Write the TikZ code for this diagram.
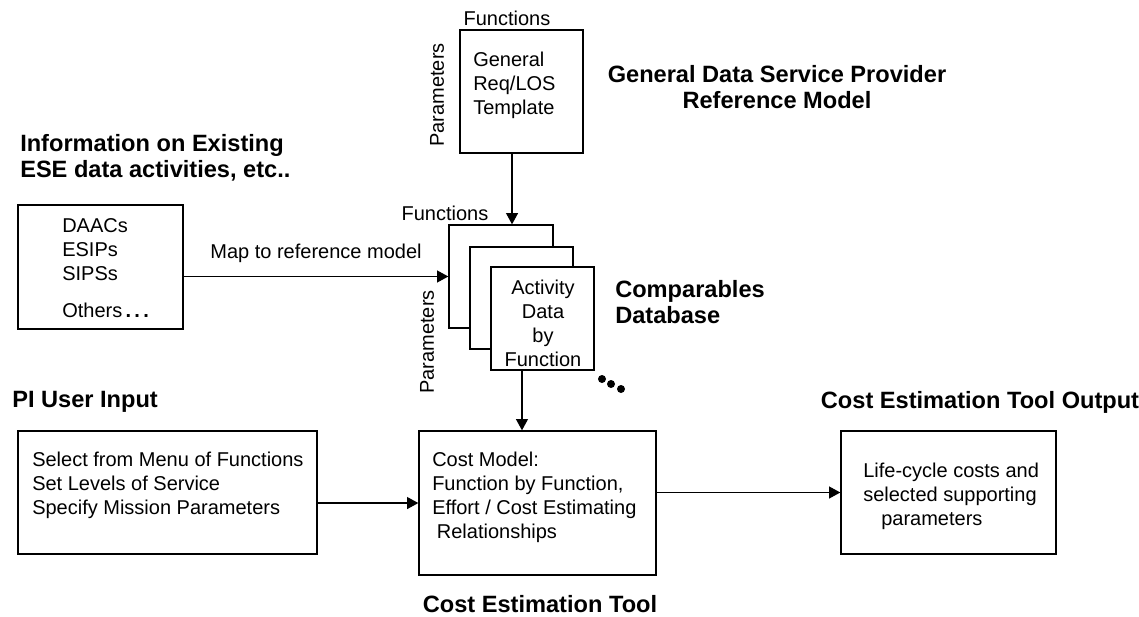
\documentclass[tikz,border=0pt]{standalone}
\usepackage{fontspec}
\setmainfont{Liberation Sans}
\usetikzlibrary{arrows.meta,fit}
\begin{document}
\begin{tikzpicture}[x=0.75pt,y=-0.75pt,
  box/.style={draw, line width=1pt, fill=white, inner sep=0pt},
  txt/.style={font=\fontsize{15}{18}\selectfont, inner sep=0pt, align=left},
  head/.style={font=\fontsize{17.7}{19.5}\bfseries\selectfont, inner sep=0pt},
  arr/.style={line width=1pt, -{Triangle[length=8.5pt,width=9pt]}},
  dot/.style={fill=black, circle, inner sep=0pt, minimum size=6pt}]
\useasboundingbox (0,0) rectangle (1139,617);

% template box
\node[box, fit={(460,30) (583,153)}] (tmpl) {};
\node[txt, anchor=west] (tmpltxt) at (473,85) {General\\Req/LOS\\Template};
\node[txt] (fun1) at (507,18) {Functions};
\node[txt, rotate=90] (par1) at (437,95) {Parameters};

% stacked boxes
\node[box, fit={(449,225) (553,328)}] (b1) {};
\node[box, fit={(470,247) (573,349)}] (b2) {};
\node[box, fit={(491,267) (594,370)}] (b3) {};
\node[txt, align=center] (b3txt) at (543,323) {Activity\\Data\\by\\Function};
\node[txt] (fun2) at (445,213) {Functions};
\node[txt, rotate=90] (par2) at (427,342) {Parameters};
\node[dot] (d1) at (602,379) {};
\node[dot] (d2) at (611,384) {};
\node[dot] (d3) at (621,389) {};

% headings
\node[head, align=center] (gdsp) at (777,87) {General Data Service Provider\\Reference Model};
\node[head, align=left, anchor=west] (comp) at (615,302) {Comparables\\Database};
\node[head, align=left, anchor=west] (info) at (20,158) {Information on Existing\\ESE data activities, etc..};
\node[head, anchor=west] (pi) at (12,402) {PI User Input};
\node[head] (ceto) at (980,402) {Cost Estimation Tool Output};
\node[head] (cet) at (540,604) {Cost Estimation Tool};

% info box
\node[box, fit={(18,205) (183,329)}] (infobox) {};
\node[txt, anchor=west] (infotxt) at (62,250) {DAACs\\ESIPs\\SIPSs};
\node[txt, anchor=west] (others) at (62,310) {Others{\bfseries\,.\,.\,.}};

% bottom row boxes
\node[box, fit={(18,431) (317,554)}] (input) {};
\node[txt, anchor=west] (inputtxt) at (32,485) {Select from Menu of Functions\\Set Levels of Service\\Specify Mission Parameters};
\node[box, fit={(419,431) (656,575)}] (cost) {};
\node[txt, anchor=west] (costtxt) at (432,497) {Cost Model:\\Function by Function,\\Effort / Cost Estimating\\\hspace*{3.5pt}Relationships};
\node[box, fit={(841,431) (1056,554)}] (out) {};
\node[txt, anchor=west] (outtxt) at (863,496) {Life-cycle costs and\\selected supporting\\\hspace*{13.5pt}parameters};

% connectors
\draw[arr] ([xshift=-7.1pt]tmpl.south) -- ([xshift=-7.1pt]tmpl.south |- b1.north);
\draw[arr] (infobox.east |- b1.west) -- node[txt, above=10pt] (maplbl) {Map to reference model} (b1.west);
\draw[arr] ([xshift=-15.4pt]b3.south) -- ([xshift=-15.4pt]b3.south |- cost.north);
\draw[arr] ([yshift=-7.9pt]input.east) -- ([yshift=-7.9pt]input.east -| cost.west);
\draw[arr] (cost.east |- out.west) -- (out.west);
\end{tikzpicture}
\end{document}
